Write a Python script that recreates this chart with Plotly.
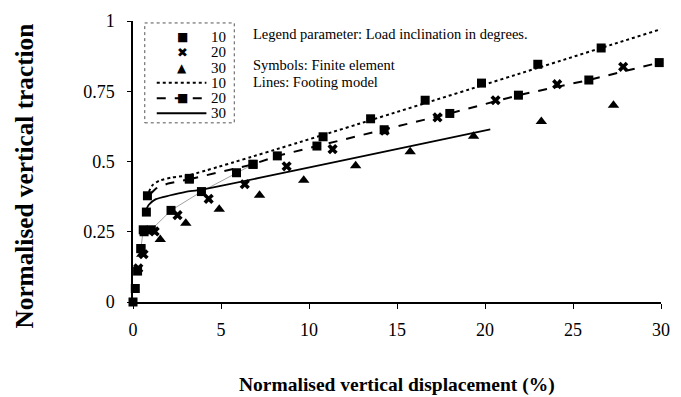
import plotly.graph_objects as go

# FE data (symbols)
fe10_x = [0.0, 0.13, 0.26, 0.45, 0.63, 0.76, 0.82, 3.2, 10.8, 13.5, 16.6, 19.8, 23.0, 26.6]
fe10_y = [0.0, 0.048, 0.11, 0.19, 0.25, 0.32, 0.378, 0.44, 0.588, 0.652, 0.718, 0.779, 0.846, 0.904]
fe20_x = [0.3, 0.6, 1.23, 2.53, 4.3, 6.35, 8.73, 11.34, 14.3, 17.3, 20.6, 24.1, 27.85]
fe20_y = [0.12, 0.17, 0.251, 0.309, 0.367, 0.419, 0.483, 0.544, 0.61, 0.657, 0.718, 0.775, 0.837]
fe30_x = [0.5, 1.55, 3.0, 4.9, 7.19, 9.7, 12.65, 15.75, 19.35, 23.2, 27.3]
fe30_y = [0.17, 0.222, 0.28, 0.33, 0.38, 0.433, 0.485, 0.535, 0.59, 0.642, 0.70]

# Footing model (lines)
m10_x = [0.9, 1.1, 1.5, 2.2, 3.2, 30.0]
m10_y = [0.392, 0.415, 0.432, 0.443, 0.452, 0.971]
m20_x = [3.2, 6.82, 8.2, 10.45, 14.27, 18.0, 21.9, 25.9, 29.9]
m20_y = [0.437, 0.49, 0.52, 0.555, 0.613, 0.671, 0.736, 0.79, 0.852]
m20_start_x = [1.0, 1.3, 2.0, 3.2]
m20_start_y = [0.385, 0.404, 0.422, 0.437]
m30_x = [0.73, 0.9, 1.3, 2.07, 3.0, 3.9, 20.3]
m30_y = [0.326, 0.346, 0.366, 0.379, 0.392, 0.40, 0.614]
# faint curve with squares
g_x = [0.45, 0.58, 1.04, 2.16, 3.89, 5.88, 6.82]
g_y = [0.19, 0.257, 0.257, 0.326, 0.393, 0.46, 0.49]

x_ticks = [0, 5, 10, 15, 20, 25, 30]
y_ticks = [0, 0.25, 0.5, 0.75, 1]
y_tick_text = ["0", "0.25", "0.5", "0.75", "1"]

legend_labels = ["10", "20", "30", "10", "20", "30"]

serif = "Liberation Serif, Times New Roman, serif"

fig = go.Figure()
fig.add_trace(go.Scatter(x=g_x, y=g_y, mode="lines+markers", showlegend=False,
                         line=dict(color="#a0a0a0", width=1),
                         marker=dict(symbol="square", size=9, color="black"), cliponaxis=False))
fig.add_trace(go.Scatter(x=fe10_x, y=fe10_y, mode="markers", name="10", showlegend=False,
                         marker=dict(symbol="square", size=9, color="black"), cliponaxis=False))
fig.add_trace(go.Scatter(x=fe20_x, y=fe20_y, mode="markers", name="20", showlegend=False,
                         marker=dict(symbol="x", size=9, color="black"), cliponaxis=False))
fig.add_trace(go.Scatter(x=fe30_x, y=fe30_y, mode="markers", name="30", showlegend=False,
                         marker=dict(symbol="triangle-up", size=10, color="black"), cliponaxis=False))
fig.add_trace(go.Scatter(x=m10_x, y=m10_y, mode="lines", name="10", showlegend=False,
                         line=dict(color="black", width=2, dash="dot", shape="spline", smoothing=0.6)))
fig.add_trace(go.Scatter(x=m20_start_x, y=m20_start_y, mode="lines", showlegend=False,
                         line=dict(color="black", width=2, dash="dash")))
fig.add_trace(go.Scatter(x=m20_x, y=m20_y, mode="lines+markers", name="20", showlegend=False,
                         line=dict(color="black", width=2, dash="dash"),
                         marker=dict(symbol="square", size=9, color="black"), cliponaxis=False))
fig.add_trace(go.Scatter(x=m30_x, y=m30_y, mode="lines", name="30", showlegend=False,
                         line=dict(color="black", width=1.8, shape="spline", smoothing=0.6)))

# ---- hand-drawn legend (compact rows like the original) ----
row_y = [0.944, 0.889, 0.833, 0.780, 0.725, 0.672]
sym_x = 0.093
lbl_x = 0.143
line_x0, line_x1 = 0.045, 0.139

annotations = []
shapes = [dict(type="rect", xref="paper", yref="paper", x0=0.0223, x1=0.1918, y0=0.6376, y1=0.993,
               line=dict(color="#555", width=1, dash="dot"), fillcolor="rgba(0,0,0,0)")]
glyphs = ["■", "✖", "▲"]
glyph_sizes = [12, 13, 12]
for i, g in enumerate(glyphs):
    annotations.append(dict(text=g, xref="paper", yref="paper", x=sym_x, y=row_y[i],
                            xanchor="center", yanchor="middle", showarrow=False,
                            font=dict(family="DejaVu Sans", size=glyph_sizes[i], color="black")))
for i, dash in zip([3, 4, 5], ["dot", "dash", "solid"]):
    shapes.append(dict(type="line", xref="paper", yref="paper", x0=line_x0, x1=line_x1,
                       y0=row_y[i], y1=row_y[i], line=dict(color="black", width=2, dash=dash)))
annotations.append(dict(text="■", xref="paper", yref="paper", x=sym_x, y=row_y[4],
                        xanchor="center", yanchor="middle", showarrow=False,
                        font=dict(family="DejaVu Sans", size=12, color="black")))
for i, lab in enumerate(legend_labels):
    annotations.append(dict(text=lab, xref="paper", yref="paper", x=lbl_x, y=row_y[i],
                            xanchor="left", yanchor="middle", showarrow=False,
                            font=dict(family=serif, size=15, color="black")))

annotations += [
    dict(text="<b>Normalised vertical displacement (%)</b>", xref="paper", yref="paper",
         x=0.5, y=-0.295, xanchor="center", yanchor="middle", showarrow=False,
         font=dict(family=serif, size=19.5)),
    dict(text="<b>Normalised vertical traction</b>", xref="paper", yref="paper",
         x=-0.207, y=0.449, xanchor="center", yanchor="middle", showarrow=False, textangle=-90,
         font=dict(family=serif, size=25.3)),
    dict(text="Legend parameter: Load inclination in degrees.", xref="paper", yref="paper",
         x=0.224, y=0.952, xanchor="left", yanchor="middle", showarrow=False,
         font=dict(family=serif, size=14.5)),
    dict(text="Symbols: Finite element", xref="paper", yref="paper",
         x=0.224, y=0.842, xanchor="left", yanchor="middle", showarrow=False,
         font=dict(family=serif, size=14.5)),
    dict(text="Lines: Footing model", xref="paper", yref="paper",
         x=0.224, y=0.782, xanchor="left", yanchor="middle", showarrow=False,
         font=dict(family=serif, size=14.5)),
]

fig.update_layout(
    width=681, height=397,
    margin=dict(l=133, r=11, t=15, b=95),
    paper_bgcolor="white", plot_bgcolor="white",
    font=dict(family=serif, color="black", size=15),
    showlegend=False,
    xaxis=dict(range=[0, 30], tickvals=x_ticks, showgrid=False, zeroline=False,
               showline=True, linecolor="black", linewidth=1.5,
               ticks="outside", ticklen=5, tickcolor="black", ticklabelstandoff=6,
               tickfont=dict(family=serif, size=18)),
    yaxis=dict(range=[0, 1], tickvals=y_ticks, ticktext=y_tick_text, showgrid=False, zeroline=False,
               showline=True, linecolor="black", linewidth=1.5,
               ticks="outside", ticklen=4, tickcolor="black", ticklabelstandoff=9,
               tickfont=dict(family=serif, size=18)),
    shapes=shapes,
    annotations=annotations,
)

fig.write_html("out.html")
